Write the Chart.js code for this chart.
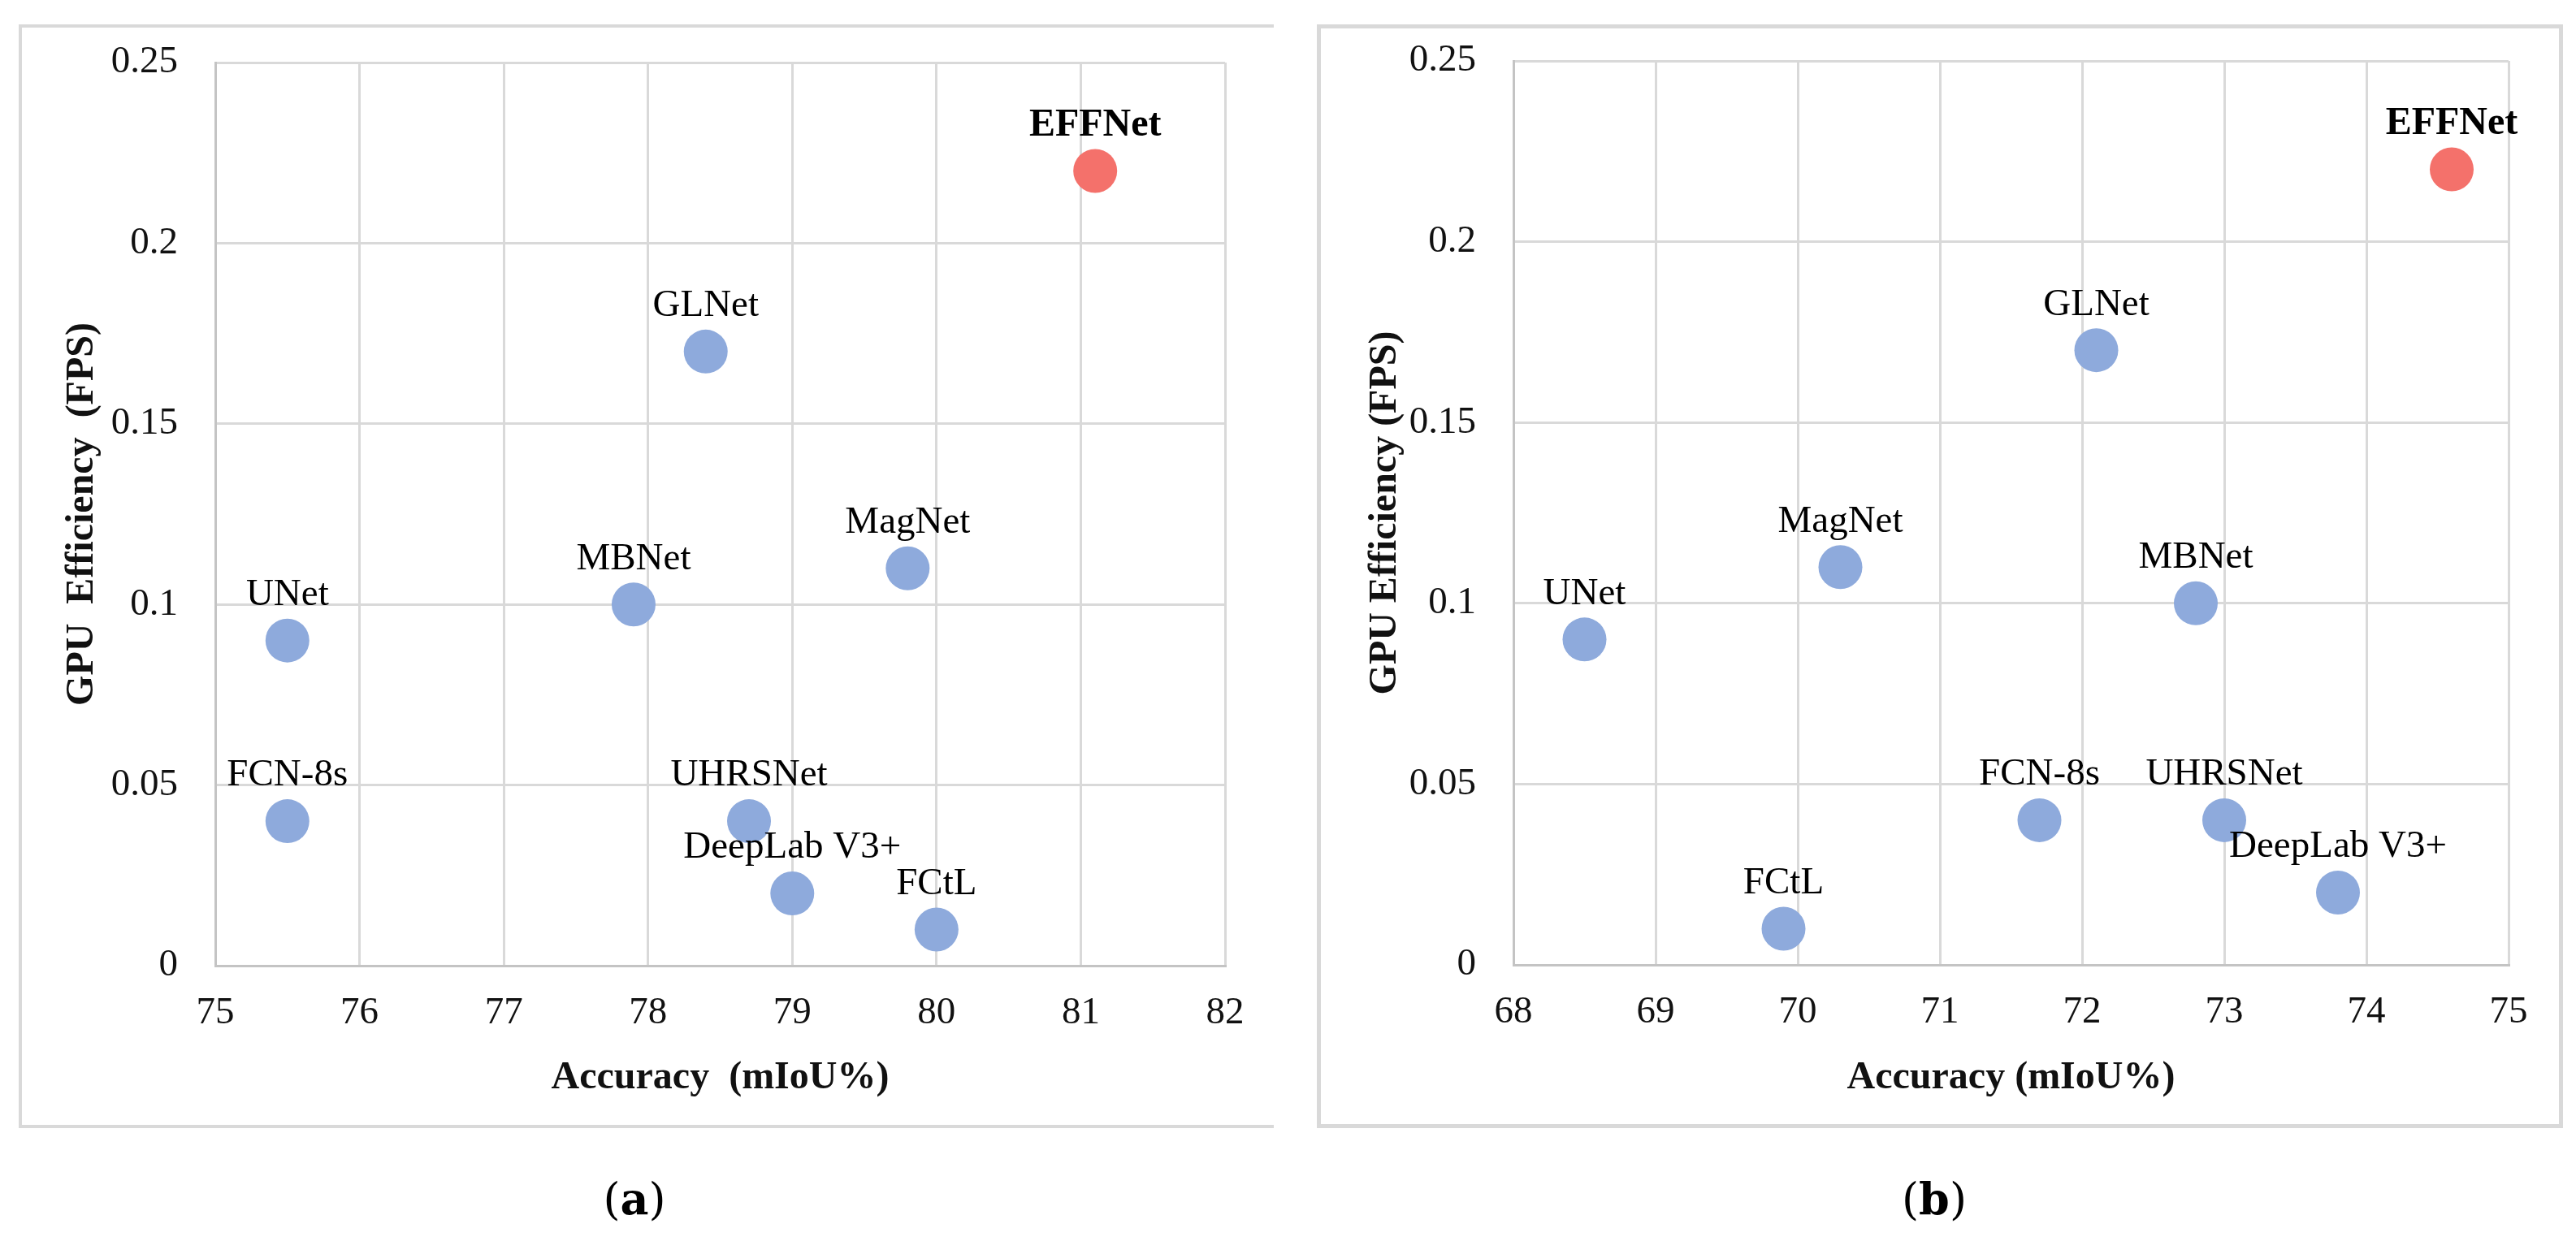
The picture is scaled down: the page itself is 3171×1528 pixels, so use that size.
<!DOCTYPE html>
<html>
<head>
<meta charset="utf-8">
<script src="https://cdn.jsdelivr.net/npm/chart.js@4"></script>
<style>
  html, body { margin: 0; padding: 0; background: #fff; }
  body { width: 3171px; height: 1528px; position: relative; overflow: hidden; }
  canvas { position: absolute; top: 0; }
  .frame { position: absolute; box-sizing: border-box; border: 4px solid #d9d9d9; }
  .cap { position: absolute; font-family: 'DejaVu Serif', 'Liberation Serif', serif; font-size: 54px; color: #000; transform: translate(-50%, -50%); white-space: nowrap; }
  .cap b { font-weight: bold; }
</style>
</head>
<body>
<div class="frame" style="left:23px; top:30px; width:1545px; height:1359px; border-right:none;"></div>
<div class="frame" style="left:1621px; top:30px; width:1534px; height:1359px; border-width:5px;"></div>
<canvas id="cA" width="1580" height="1400" style="left:0px; width:1580px; height:1400px;"></canvas>
<canvas id="cB" width="1573" height="1400" style="left:1598px; width:1573px; height:1400px;"></canvas>
<div class="cap" style="left:781px; top:1476px;">(<b>a</b>)</div>
<div class="cap" style="left:2381px; top:1476px;">(<b>b</b>)</div>
<script>
// ---- data ----
const namesA = ['UNet', 'FCN-8s', 'MBNet', 'GLNet', 'MagNet', 'UHRSNet', 'DeepLab V3+', 'FCtL', 'EFFNet'];
const accA   = [75.5, 75.5, 77.9, 78.4, 79.8, 78.7, 79.0, 80.0, 81.1];
const fpsA   = [0.09, 0.04, 0.10, 0.17, 0.11, 0.04, 0.02, 0.01, 0.22];

const namesB = ['UNet', 'FCtL', 'MagNet', 'FCN-8s', 'GLNet', 'MBNet', 'UHRSNet', 'DeepLab V3+', 'EFFNet'];
const accB   = [68.5, 69.9, 70.3, 71.7, 72.1, 72.8, 73.0, 73.8, 74.6];
const fpsB   = [0.09, 0.01, 0.11, 0.04, 0.17, 0.10, 0.04, 0.02, 0.22];

const xTicksA = ['75', '76', '77', '78', '79', '80', '81', '82'];
const xTicksB = ['68', '69', '70', '71', '72', '73', '74', '75'];
const yTicks  = ['0', '0.05', '0.1', '0.15', '0.2', '0.25'];

const highlightName = 'EFFNet';
const blue = '#8eaadc';
const red = '#f4716b';
const FONT = "'Liberation Serif', 'Times New Roman', serif";

const labelPlugin = {
  id: 'pointLabels',
  afterDatasetsDraw(chart) {
    const ctx = chart.ctx;
    const names = chart.data.datasets[0].names;
    const meta = chart.getDatasetMeta(0);
    ctx.save();
    ctx.fillStyle = '#000';
    ctx.textAlign = 'center';
    ctx.textBaseline = 'middle';
    meta.data.forEach((el, i) => {
      const bold = names[i] === highlightName;
      ctx.font = (bold ? 'bold 48px ' : '47px ') + FONT;
      ctx.fillText(names[i], el.x, el.y - 56);
    });
    ctx.restore();
  }
};

function makeChart(id, names, acc, fps, xTicks, opts) {
  const pts = acc.map((a, i) => ({ x: a, y: fps[i] }));
  const colors = names.map(n => n === highlightName ? red : blue);
  return new Chart(document.getElementById(id), {
    type: 'scatter',
    data: {
      datasets: [{
        names: names,
        data: pts,
        backgroundColor: colors,
        borderColor: colors,
        borderWidth: 0,
        pointRadius: 27,
        pointHoverRadius: 27
      }]
    },
    options: {
      responsive: false,
      animation: false,
      devicePixelRatio: 1,
      layout: { padding: { left: 0, top: opts.top, right: opts.right, bottom: 0 } },
      plugins: { legend: { display: false }, tooltip: { enabled: false } },
      scales: {
        x: {
          type: 'linear',
          min: Number(xTicks[0]),
          max: Number(xTicks[xTicks.length - 1]),
          afterFit(s) { s.height = opts.xh; },
          ticks: {
            stepSize: 1,
            padding: 30,
            color: '#111',
            font: { family: FONT, size: 47 },
            callback: (v, i) => xTicks[i]
          },
          grid: { color: '#d9d9d9', lineWidth: 3, drawTicks: false },
          border: { color: '#c4c4c4', width: 3 },
          title: {
            display: true,
            text: opts.xTitle,
            color: '#111',
            font: { family: FONT, size: 48, weight: 'bold' },
            padding: { top: 0, bottom: 44 }
          }
        },
        y: {
          type: 'linear',
          min: 0,
          max: 0.25,
          afterFit(s) { s.width = opts.yw; },
          ticks: {
            stepSize: 0.05,
            padding: 46,
            color: '#111',
            font: { family: FONT, size: 47 },
            callback: (v, i) => yTicks[i]
          },
          grid: { color: '#d9d9d9', lineWidth: 3, drawTicks: false },
          border: { color: '#c4c4c4', width: 3 },
          title: {
            display: true,
            text: opts.yTitle,
            color: '#111',
            font: { family: FONT, size: 48, weight: 'bold' },
            padding: { top: opts.yTitlePad, bottom: 0 }
          }
        }
      }
    },
    plugins: [labelPlugin]
  });
}

makeChart('cA', namesA, accA, fpsA, xTicksA, {
  top: 77, right: 72, xh: 211, yw: 265, yTitlePad: 73,
  xTitle: 'Accuracy  (mIoU%)', yTitle: 'GPU  Efficiency  (FPS)'
});
makeChart('cB', namesB, accB, fpsB, xTicksB, {
  top: 75, right: 83, xh: 212, yw: 265, yTitlePad: 79,
  xTitle: 'Accuracy (mIoU%)', yTitle: 'GPU Efficiency (FPS)'
});
</script>
</body>
</html>
